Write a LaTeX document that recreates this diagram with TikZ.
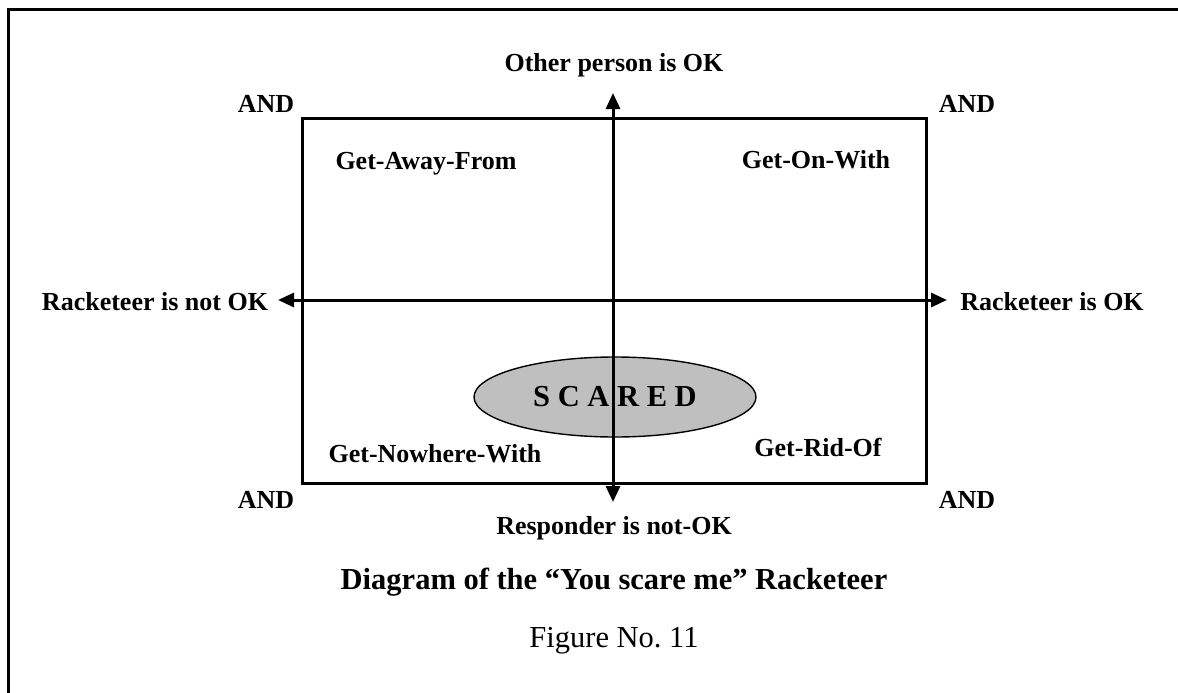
\documentclass[tikz,border=0pt]{standalone}
\usepackage{fontspec}
\setmainfont{Liberation Serif}
\usetikzlibrary{arrows.meta,shapes.geometric}

\tikzset{
  lbl/.style={font=\fontsize{26}{31}\selectfont\bfseries, anchor=base, inner sep=0pt},
  bigtitle/.style={font=\fontsize{30.5}{36}\selectfont\bfseries, anchor=base, inner sep=0pt},
  caption/.style={font=\fontsize{30.5}{36}\selectfont, anchor=base, inner sep=0pt},
  heavy/.style={line width=3pt},
  axis/.style={line width=3pt, {Triangle[length=16pt,width=14pt]}-{Triangle[length=16pt,width=14pt]}},
  blob/.style={ellipse, draw, line width=1.4pt, fill=black!25,
    minimum width=282pt, minimum height=80pt, inner sep=0pt,
    font=\fontsize{30.5}{36}\selectfont\bfseries}
}

\begin{document}
\begin{tikzpicture}[x=1pt, y=-1pt]
  \useasboundingbox (0,0) rectangle (1178,693);

  % page frame (open at the bottom and right)
  \draw[heavy] (8,700) -- (8,10) -- (1185,10);

  % quadrant box
  \draw[heavy] (302,118) rectangle (926,483);

  % central ellipse
  \node[blob] (scared) at (615,397) {S C A R E D};

  % axes
  \coordinate (west)  at (278,300);
  \coordinate (east)  at (947,300);
  \coordinate (north) at (613,93);
  \coordinate (south) at (613,502);
  \draw[axis] (west) -- (east);
  \draw[axis] (south) -- (north);

  % axis labels
  \node[lbl] (other)  at (614,71)  {Other person is OK};
  \node[lbl] (rnotok) at (155,310) {Racketeer is not OK};
  \node[lbl] (rok)    at (1052,310) {Racketeer is OK};
  \node[lbl] (resp)   at (614,534) {Responder is not-OK};

  % corner labels
  \node[lbl] (andtl) at (266,112) {AND};
  \node[lbl] (andtr) at (967,112) {AND};
  \node[lbl] (andbl) at (266,508) {AND};
  \node[lbl] (andbr) at (967,508) {AND};

  % quadrant labels
  \node[lbl] (away)    at (426,169) {Get-Away-From};
  \node[lbl] (on)      at (816,168) {Get-On-With};
  \node[lbl] (nowhere) at (435,462) {Get-Nowhere-With};
  \node[lbl] (rid)     at (818,456) {Get-Rid-Of};

  % caption
  \node[bigtitle] (title) at (614,589) {Diagram of the “You scare me” Racketeer};
  \node[caption]  (fig)   at (614,647) {Figure No.\ 11};
\end{tikzpicture}
\end{document}
